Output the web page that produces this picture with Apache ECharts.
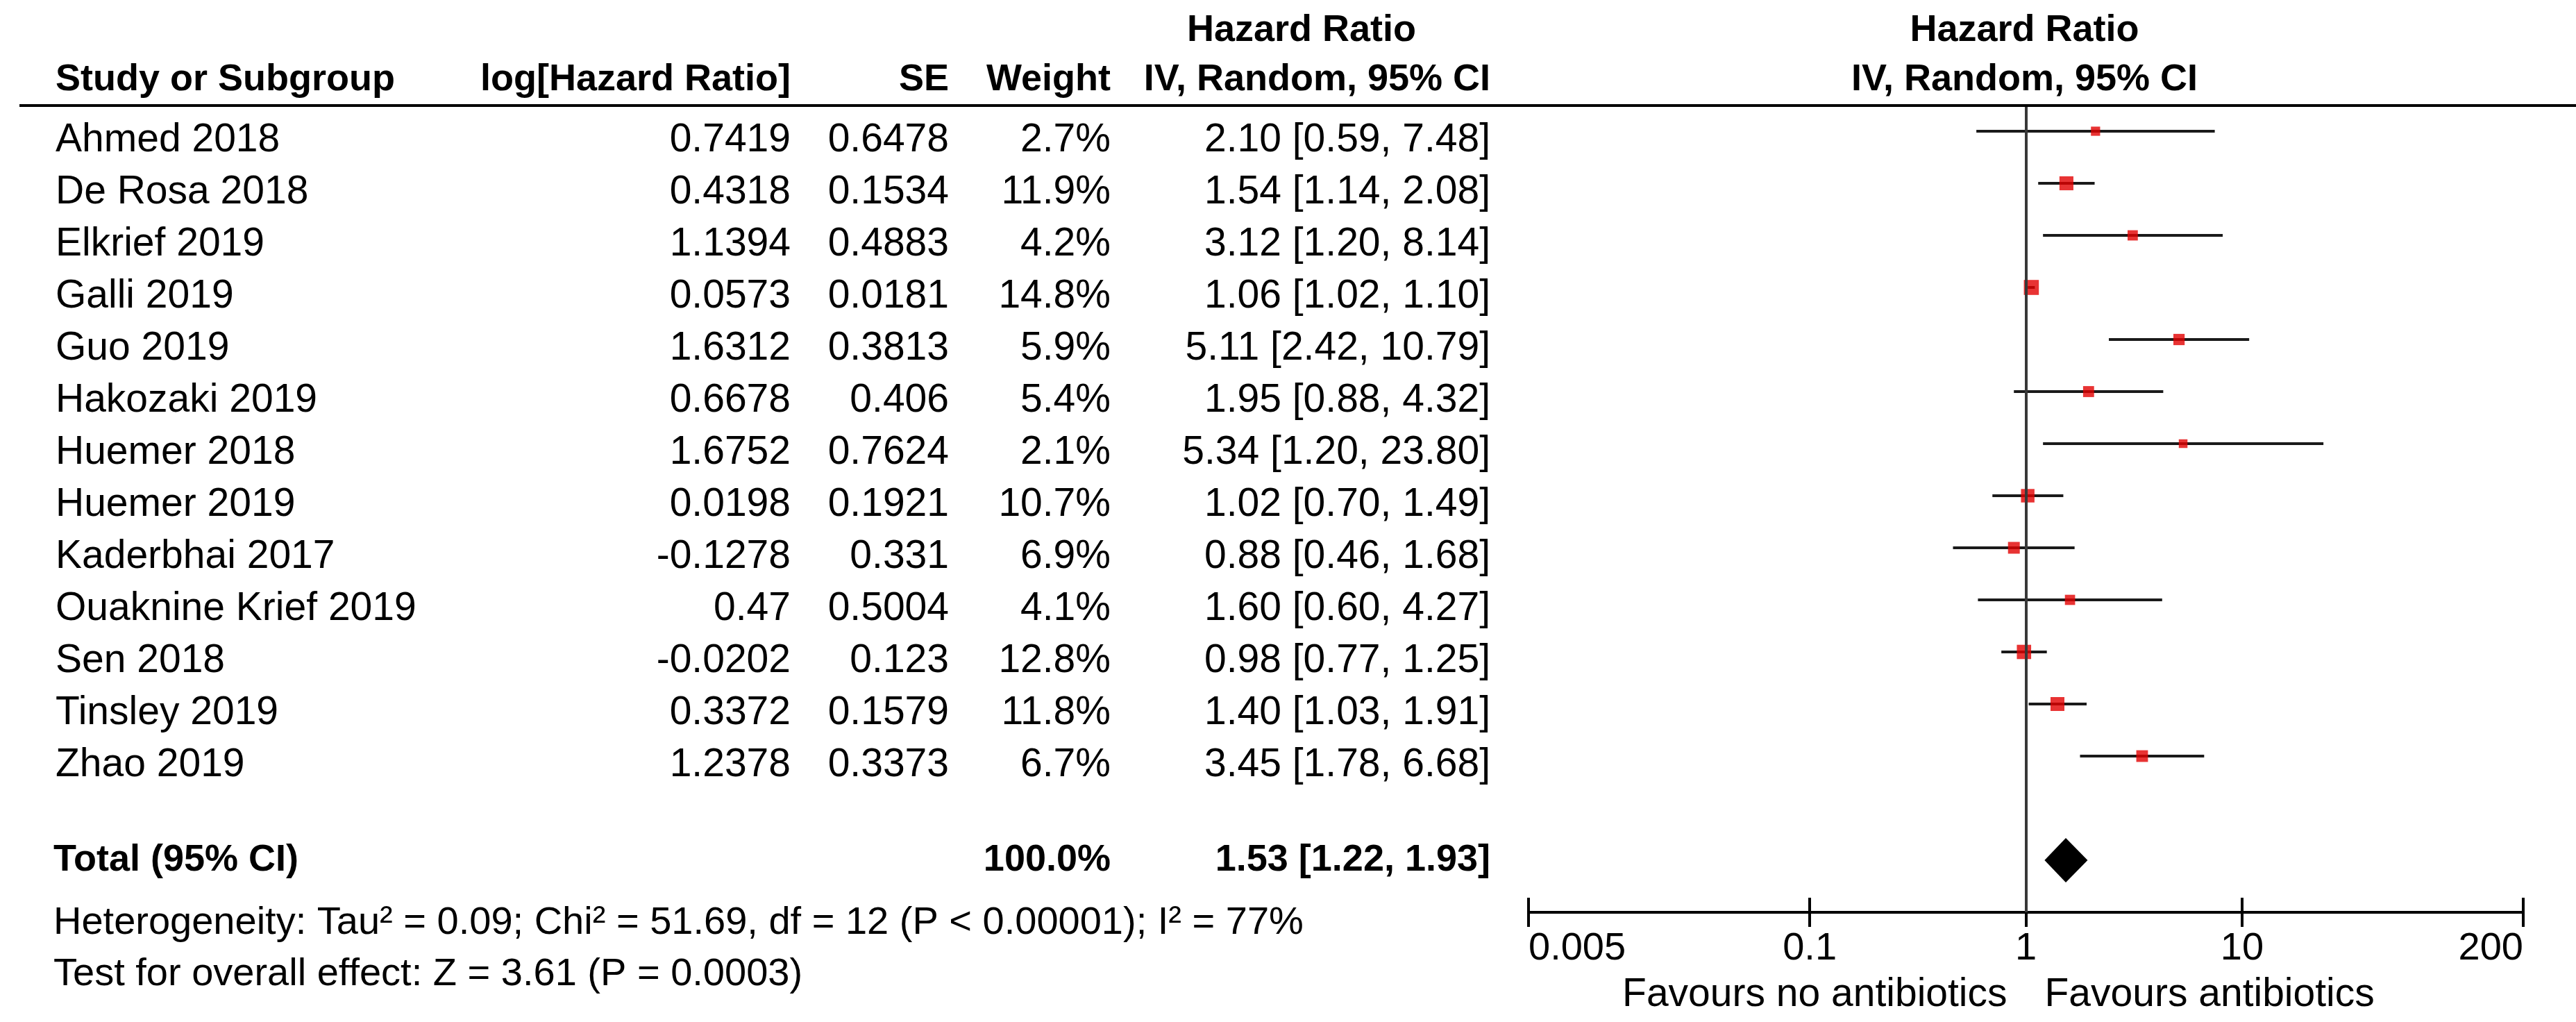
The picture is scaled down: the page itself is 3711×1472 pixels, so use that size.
<!DOCTYPE html>
<html>
<head>
<meta charset="utf-8">
<script src="https://cdn.jsdelivr.net/npm/echarts@6/dist/echarts.min.js"></script>
<style>
html,body{margin:0;padding:0;background:#fff;}
#chart{width:3711px;height:1472px;}
</style>
</head>
<body>
<div id="chart"></div>
<script>
// ---- data ----
const studies = ['Ahmed 2018','De Rosa 2018','Elkrief 2019','Galli 2019','Guo 2019','Hakozaki 2019','Huemer 2018','Huemer 2019','Kaderbhai 2017','Ouaknine Krief 2019','Sen 2018','Tinsley 2019','Zhao 2019'];
const logHR = [0.7419,0.4318,1.1394,0.0573,1.6312,0.6678,1.6752,0.0198,-0.1278,0.47,-0.0202,0.3372,1.2378];
const seValues = [0.6478,0.1534,0.4883,0.0181,0.3813,0.406,0.7624,0.1921,0.331,0.5004,0.123,0.1579,0.3373];
const weights = [2.7,11.9,4.2,14.8,5.9,5.4,2.1,10.7,6.9,4.1,12.8,11.8,6.7];
const hrValues = [2.10,1.54,3.12,1.06,5.11,1.95,5.34,1.02,0.88,1.60,0.98,1.40,3.45];
const ciLow = [0.59,1.14,1.20,1.02,2.42,0.88,1.20,0.70,0.46,0.60,0.77,1.03,1.78];
const ciHigh = [7.48,2.08,8.14,1.10,10.79,4.32,23.80,1.49,1.68,4.27,1.25,1.91,6.68];
const totalLabel = 'Total (95% CI)';
const totalWeight = 100.0;
const totalHR = 1.53, totalLow = 1.22, totalHigh = 1.93;
const tickValues = [0.005,0.1,1,10,200];
const tickLabels = ['0.005','0.1','1','10','200'];
const heterogeneityText = 'Heterogeneity: Tau\u00B2 = 0.09; Chi\u00B2 = 51.69, df = 12 (P < 0.00001); I\u00B2 = 77%';
const overallText = 'Test for overall effect: Z = 3.61 (P = 0.0003)';
const favoursLeft = 'Favours no antibiotics';
const favoursRight = 'Favours antibiotics';
const headerLeft = ['Study or Subgroup','log[Hazard Ratio]','SE','Weight'];
const headerEffect = ['Hazard Ratio','IV, Random, 95% CI'];

// ---- layout ----
const FONT = '"Liberation Sans", Arial, sans-serif';
const FS = 57, FSB = 54;
const GRID_L = 2202, GRID_R = 3711 - 3635, GRID_T = 152, GRID_B = 1472 - 1314;
const Y_MIN = -0.4933, Y_MAX = 15;
const TOTAL_ROW = 14;
const TEXT_DY = 13;
const COL = {name: 80, log: 1139, se: 1367, w: 1600, ci: 2147};
const lg = Math.log10;
const plotCenter = GRID_L + (3711 - GRID_R - GRID_L) / 2;

function fmtCI(h, l, u) { return h.toFixed(2) + ' [' + l.toFixed(2) + ', ' + u.toFixed(2) + ']'; }
function txt(x, y, text, align, bold, size) {
  return {type: 'text', x: x, y: y, silent: true,
    style: {text: text, fontFamily: FONT, fontSize: size || (bold ? FSB : FS), fontWeight: bold ? 'bold' : 'normal',
      align: align, verticalAlign: 'middle', fill: '#000'}};
}

const chart = echarts.init(document.getElementById('chart'), null, {renderer: 'canvas'});

const rowData = studies.map((s, i) => [i]);

const option = {
  backgroundColor: '#fff',
  animation: false,
  grid: {left: GRID_L, right: GRID_R, top: GRID_T, bottom: GRID_B, containLabel: false},
  xAxis: [{
    type: 'value', min: lg(tickValues[0]), max: lg(tickValues[tickValues.length - 1]),
    position: 'bottom',
    splitLine: {show: false},
    axisLine: {show: true, onZero: false, lineStyle: {color: '#000', width: 4}},
    axisTick: {show: true, length: 21, customValues: tickValues.map(lg), lineStyle: {color: '#000', width: 4}},
    axisLabel: {show: true, customValues: tickValues.map(lg), margin: 25, fontSize: 56, fontFamily: FONT, color: '#000',
      alignMinLabel: 'left', alignMaxLabel: 'right',
      formatter: function (v) {
        for (let k = 0; k < tickValues.length; k++) { if (Math.abs(lg(tickValues[k]) - v) < 1e-6) return tickLabels[k]; }
        return '';
      }}
  }, {
    type: 'value', min: lg(tickValues[0]), max: lg(tickValues[tickValues.length - 1]),
    position: 'bottom', offset: 0,
    splitLine: {show: false},
    axisLine: {show: false, onZero: false},
    axisTick: {show: true, inside: true, length: 21, customValues: tickValues.map(lg), lineStyle: {color: '#000', width: 4}},
    axisLabel: {show: false}
  }],
  yAxis: {type: 'value', inverse: true, min: Y_MIN, max: Y_MAX, show: false, splitLine: {show: false}},
  series: [
    {
      type: 'custom', name: 'ci', xAxisIndex: 0,
      data: studies.map((s, i) => [lg(ciLow[i]), lg(ciHigh[i]), i]),
      encode: {x: [0, 1], y: 2},
      renderItem: function (params, api) {
        const a = api.coord([api.value(0), api.value(2)]);
        const b = api.coord([api.value(1), api.value(2)]);
        return {type: 'line', shape: {x1: a[0], y1: a[1], x2: b[0], y2: b[1]},
          style: {stroke: '#1a1a1a', lineWidth: 4}};
      },
      markLine: {silent: true, symbol: 'none', label: {show: false},
        lineStyle: {color: '#383838', width: 4, type: 'solid'},
        data: [{xAxis: lg(1)}]},
      z: 2
    },
    {
      type: 'scatter', name: 'est', xAxisIndex: 0,
      data: studies.map((s, i) => [lg(hrValues[i]), i, weights[i]]),
      symbol: 'rect',
      symbolSize: function (d) { return 7 + 3.8 * Math.sqrt(d[2]); },
      itemStyle: {color: '#e20000'},
      z: 3
    },
    {
      type: 'custom', name: 'total', xAxisIndex: 0,
      data: [[lg(totalLow), lg(totalHR), lg(totalHigh), TOTAL_ROW]],
      encode: {x: [0, 2], y: 3},
      renderItem: function (params, api) {
        const y = api.value(3);
        const l = api.coord([api.value(0), y]);
        const m = api.coord([api.value(1), y]);
        const r = api.coord([api.value(2), y]);
        const h = 32;
        return {type: 'polygon', shape: {points: [[l[0], l[1]], [m[0], m[1] - h], [r[0], r[1]], [m[0], m[1] + h]]},
          style: {fill: '#000'}};
      },
      z: 3
    },
    {
      type: 'custom', name: 'table', xAxisIndex: 0,
      data: rowData,
      encode: {y: 0},
      clip: false,
      renderItem: function (params, api) {
        const i = api.value(0);
        const y = api.coord([0, i])[1] + TEXT_DY;
        return {type: 'group', children: [
          txt(COL.name, y, studies[i], 'left', false),
          txt(COL.log, y, String(logHR[i]), 'right', false),
          txt(COL.se, y, String(seValues[i]), 'right', false),
          txt(COL.w, y, weights[i].toFixed(1) + '%', 'right', false),
          txt(COL.ci, y, fmtCI(hrValues[i], ciLow[i], ciHigh[i]), 'right', false)
        ]};
      }
    },
    {
      type: 'custom', name: 'totalText', xAxisIndex: 0,
      data: [[TOTAL_ROW]],
      encode: {y: 0},
      clip: false,
      renderItem: function (params, api) {
        const y = api.coord([0, api.value(0)])[1];
        return {type: 'group', children: [
          txt(COL.name - 3, y, totalLabel, 'left', true),
          txt(COL.w, y, totalWeight.toFixed(1) + '%', 'right', true),
          txt(COL.ci, y, fmtCI(totalHR, totalLow, totalHigh), 'right', true)
        ]};
      }
    }
  ],
  graphic: [
    {type: 'line', shape: {x1: 28, y1: GRID_T, x2: 3711, y2: GRID_T}, style: {stroke: '#000', lineWidth: 4}, z: 10},
    txt(COL.name, 115, headerLeft[0], 'left', true),
    txt(COL.log, 115, headerLeft[1], 'right', true),
    txt(COL.se, 115, headerLeft[2], 'right', true),
    txt(COL.w, 115, headerLeft[3], 'right', true),
    txt(1875, 44, headerEffect[0], 'center', true),
    txt(COL.ci, 115, headerEffect[1], 'right', true),
    txt(plotCenter - 2, 44, headerEffect[0], 'center', true),
    txt(plotCenter - 2, 115, headerEffect[1], 'center', true),
    txt(COL.name - 3, 1330, heterogeneityText, 'left', false, 56),
    txt(COL.name - 3, 1404, overallText, 'left', false, 56),
    txt(plotCenter - 27, 1433, favoursLeft, 'right', false),
    txt(plotCenter + 27, 1433, favoursRight, 'left', false)
  ]
};
chart.setOption(option);
</script>
</body>
</html>
